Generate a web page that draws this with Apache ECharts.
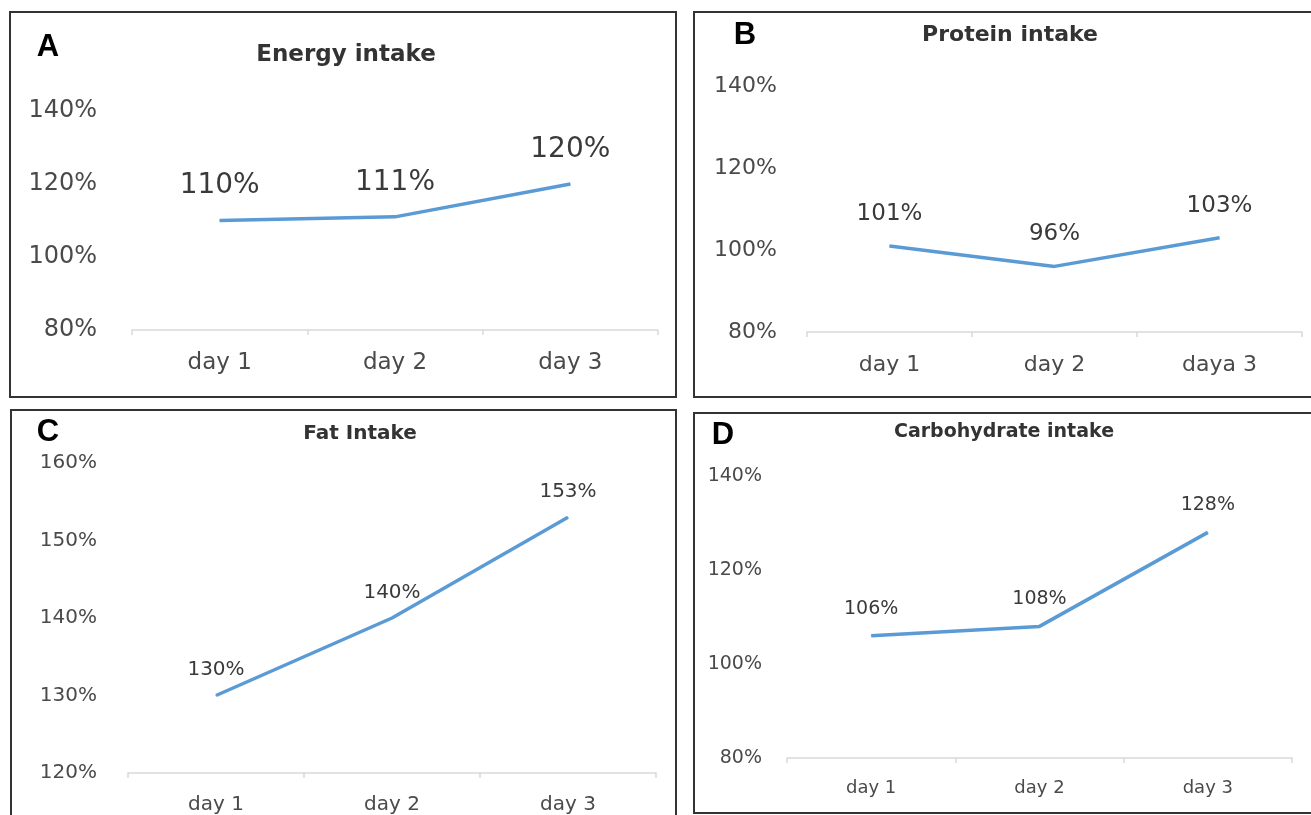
<!DOCTYPE html>
<html>
<head>
<meta charset="utf-8">
<script src="https://cdn.jsdelivr.net/npm/echarts@6/dist/echarts.min.js"></script>
<style>
html,body{margin:0;padding:0;background:#fff;}
#chart{width:1311px;height:815px;}
</style>
</head>
<body>
<div id="chart"></div>
<script>
// ---- data ----
const panelLetters = ['A', 'B', 'C', 'D'];
const panelTitles = ['Energy intake', 'Protein intake', 'Fat Intake', 'Carbohydrate intake'];
const categoriesA = ['day 1', 'day 2', 'day 3'];
const categoriesB = ['day 1', 'day 2', 'daya 3'];
const categoriesC = ['day 1', 'day 2', 'day 3'];
const categoriesD = ['day 1', 'day 2', 'day 3'];
const energyValues = [110, 111, 120];
const proteinValues = [101, 96, 103];
const fatValues = [130, 140, 153];
const carbValues = [106, 108, 128];
const yTicksA = [80, 100, 120, 140];
const yTicksB = [80, 100, 120, 140];
const yTicksC = [120, 130, 140, 150, 160];
const yTicksD = [80, 100, 120, 140];

// ---- layout ----
const FONT = 'DejaVu Sans';
const panels = [
  {cats: categoriesA, vals: energyValues, ticks: yTicksA,
   grid: {left: 132, top: 111, width: 526, height: 219},
   yFont: 24, yMargin: 35, xFont: 23, xMargin: 22, lFont: 28, lDist: 20,
   title: {x: 346, y: 44, size: 23},
   letter: {x: 48, y: 47}, border: [10, 12, 666, 385]},
  {cats: categoriesB, vals: proteinValues, ticks: yTicksB,
   grid: {left: 807, top: 86, width: 495, height: 246},
   yFont: 22, yMargin: 30, xFont: 22, xMargin: 22, lFont: 23, lDist: 20,
   title: {x: 1010, y: 24, size: 22},
   letter: {x: 745, y: 35}, border: [694, 12, 625, 385]},
  {cats: categoriesC, vals: fatValues, ticks: yTicksC,
   grid: {left: 128, top: 463, width: 528, height: 315},
   yFont: 20, yMargin: 31, xFont: 20, xMargin: 22, lFont: 20, lDist: 15,
   title: {x: 360, y: 424, size: 20},
   letter: {x: 48, y: 432}, border: [11, 410, 665, 420]},
  {cats: categoriesD, vals: carbValues, ticks: yTicksD,
   grid: {left: 787, top: 476, width: 505, height: 282},
   yFont: 19, yMargin: 25, xFont: 18, xMargin: 21, lFont: 19, lDist: 17,
   title: {x: 1004, y: 423, size: 19},
   letter: {x: 723, y: 435}, border: [694, 413, 625, 400]}
];

const option = {
  animation: false,
  backgroundColor: '#ffffff',
  title: panels.map((p, i) => ({
    text: panelTitles[i],
    left: p.title.x, top: p.title.y, textAlign: 'center', padding: 0,
    textStyle: {fontFamily: FONT, fontWeight: 'bold', fontSize: p.title.size, color: '#333333'}
  })),
  grid: panels.map(p => Object.assign({containLabel: false}, p.grid)),
  xAxis: panels.map((p, i) => ({
    type: 'category', gridIndex: i, data: p.cats, boundaryGap: true,
    axisLine: {show: true, lineStyle: {color: '#d9d9d9', width: 1.5}},
    axisTick: {show: true, length: 5, lineStyle: {color: '#d9d9d9', width: 1.5}},
    axisLabel: {fontFamily: FONT, fontSize: p.xFont, color: '#4a4a4a', margin: p.xMargin},
    splitLine: {show: false}
  })),
  yAxis: panels.map((p, i) => ({
    type: 'value', gridIndex: i,
    min: p.ticks[0], max: p.ticks[p.ticks.length - 1], interval: p.ticks[1] - p.ticks[0],
    axisLine: {show: false}, axisTick: {show: false}, splitLine: {show: false},
    axisLabel: {fontFamily: FONT, fontSize: p.yFont, color: '#4a4a4a', margin: p.yMargin,
      formatter: '{value}%'}
  })),
  series: panels.map((p, i) => ({
    type: 'line', xAxisIndex: i, yAxisIndex: i, data: p.vals,
    symbol: 'circle', symbolSize: 1, showSymbol: true,
    itemStyle: {color: '#5B9BD5'},
    lineStyle: {color: '#5B9BD5', width: 3.5},
    label: {show: true, position: 'top', distance: p.lDist, formatter: '{c}%',
      fontFamily: FONT, fontSize: p.lFont, color: '#3a3a3a'}
  })),
  graphic: [].concat(
    panels.map(p => ({
      type: 'rect', silent: true, z: 100,
      shape: {x: p.border[0], y: p.border[1], width: p.border[2], height: p.border[3]},
      style: {fill: 'none', stroke: '#333333', lineWidth: 2}
    })),
    panels.map((p, i) => ({
      type: 'text', silent: true, z: 100, x: p.letter.x, y: p.letter.y,
      style: {text: panelLetters[i], fill: '#000000', font: 'bold 31px "Liberation Sans"',
        textAlign: 'center', textVerticalAlign: 'middle'}
    }))
  )
};

const chart = echarts.init(document.getElementById('chart'), null, {renderer: 'canvas'});
chart.setOption(option);
</script>
</body>
</html>
